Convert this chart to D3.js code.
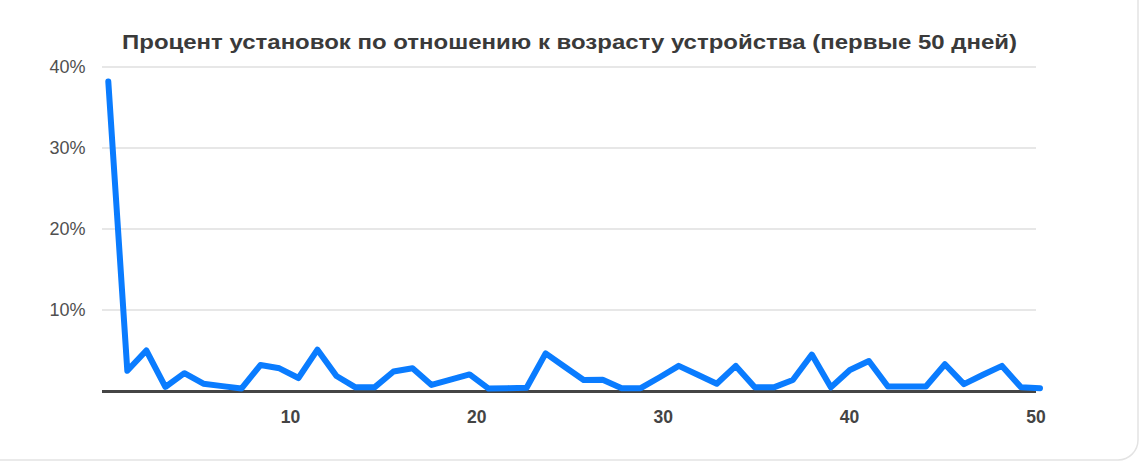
<!DOCTYPE html>
<html><head><meta charset="utf-8">
<script src="https://cdn.jsdelivr.net/npm/d3@7"></script>
<style>html,body{margin:0;padding:0;background:#fff;overflow:hidden}</style>
</head><body>
<svg id="c" width="1140" height="462"></svg>
<script>
const title = "Процент установок по отношению к возрасту устройства (первые 50 дней)";
const days = d3.range(1, 51);
const values = [38.2, 2.5, 5.0, 0.5, 2.2, 0.9, 0.6, 0.3, 3.2, 2.8,
                 1.6, 5.1, 1.85, 0.45, 0.45, 2.4, 2.8, 0.75, 1.4, 2.05,
                 0.3, 0.35, 0.4, 4.65, 3.0, 1.35, 1.4, 0.35, 0.35, 1.7,
                 3.1, 2.0, 0.9, 3.1, 0.45, 0.45, 1.35, 4.5, 0.45, 2.6,
                 3.7, 0.55, 0.55, 0.55, 3.3, 0.85, 2.0, 3.1, 0.45, 0.35];
const yTicks = [0, 10, 20, 30, 40];
const xTicks = [10, 20, 30, 40, 50];

const svg = d3.select("#c");
// card border
svg.append("rect").attr("x", -20).attr("y", -30).attr("width", 1158).attr("height", 490)
  .attr("rx", 20).attr("fill", "#fff").attr("stroke", "#e3e3e3").attr("stroke-width", 1.5);

const y = d3.scaleLinear().domain([0, 40]).range([391, 67]);
const xAxisScale = d3.scaleLinear().domain([0, 50]).range([103.5, 1035.5]);
const xLine = d3.scaleLinear().domain([1, 50]).range([108.3, 1040]);

svg.append("text").attr("x", 569.5).attr("y", 49).attr("text-anchor", "middle")
  .attr("font-family", "Liberation Sans, Arial, sans-serif").attr("font-weight", "bold")
  .attr("font-size", 21).attr("fill", "#3a3a3a")
  .attr("textLength", 895).attr("lengthAdjust", "spacingAndGlyphs").text(title);

const grid = svg.append("g");
yTicks.filter(t => t > 0).forEach(t => {
  grid.append("line").attr("x1", 102).attr("x2", 1036).attr("y1", y(t)).attr("y2", y(t))
    .attr("stroke", "#cfcfcf").attr("stroke-width", 1.2);
});
yTicks.filter(t => t > 0).forEach(t => {
  grid.append("text").attr("x", 85.5).attr("y", y(t)).attr("dy", "0.36em").attr("text-anchor", "end")
    .attr("font-family", "Liberation Sans, Arial, sans-serif").attr("font-size", 18)
    .attr("fill", "#505050").text(t + "%");
});

const xAxis = d3.axisBottom(xAxisScale).tickValues(xTicks).tickSize(0).tickPadding(20);
const gx = svg.append("g").attr("transform", `translate(0,${y(0)})`).call(xAxis);
gx.select(".domain").remove();
gx.selectAll("text").attr("font-family", "Liberation Sans, Arial, sans-serif").attr("font-weight", "bold")
  .attr("font-size", 17.5).attr("fill", "#444");
svg.append("line").attr("x1", 102).attr("x2", 1036).attr("y1", y(0) + 0.5).attr("y2", y(0) + 0.5)
  .attr("stroke", "#454545").attr("stroke-width", 3);

const line = d3.line().x((d, i) => xLine(days[i])).y(d => y(d));
svg.append("path").datum(values).attr("d", line).attr("fill", "none")
  .attr("stroke", "#0a7cff").attr("stroke-width", 6).attr("stroke-linejoin", "round").attr("stroke-linecap", "round");
</script>
</body></html>
